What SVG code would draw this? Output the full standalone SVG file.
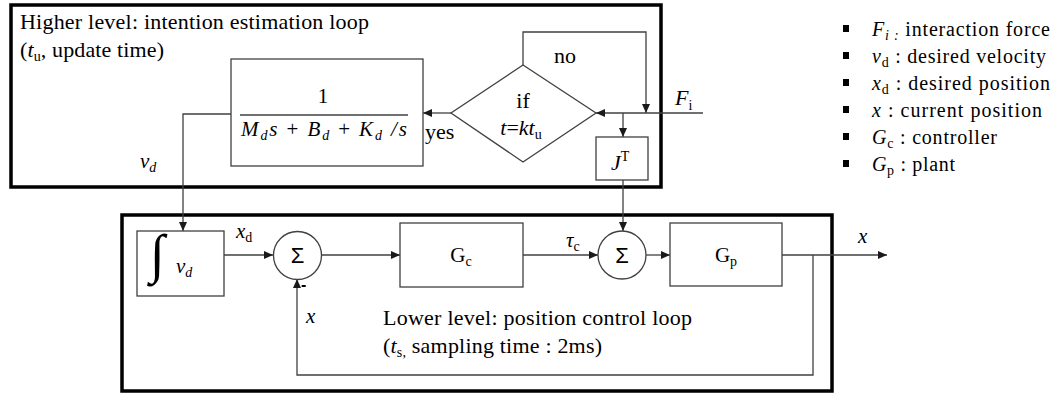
<svg xmlns="http://www.w3.org/2000/svg" width="1055" height="396" viewBox="0 0 1055 396">
<defs>
<marker id="ah" viewBox="0 0 9 8" refX="9" refY="4" markerWidth="9" markerHeight="8" markerUnits="userSpaceOnUse" orient="auto">
<path d="M0,0 L9,4 L0,8 z" fill="#1a1a1a"/>
</marker>
</defs>
<style>
.frame{fill:none;stroke:#000;stroke-width:3.5}
.blk{fill:#fff;stroke:#404040;stroke-width:1.3}
.con{fill:none;stroke:#404040;stroke-width:1.3;marker-end:url(#ah)}
</style>
<rect width="1055" height="396" fill="#fff"/>

<g id="upper-frame">
<rect class="frame" x="11" y="5" width="650" height="182"/>
<text font-family="'Liberation Serif', serif" font-size="22" x="20" y="29" textLength="349" lengthAdjust="spacing">Higher level: intention estimation loop</text>
<text font-family="'Liberation Serif', serif" font-size="22" x="20" y="57" textLength="144" lengthAdjust="spacing">(<tspan font-style="italic">t</tspan><tspan font-size="14" dy="4">u</tspan><tspan dy="-4">, update time)</tspan></text>
</g>

<g id="lower-frame">
<rect class="frame" x="122" y="215" width="710" height="176"/>
<text font-family="'Liberation Serif', serif" font-size="22" x="383" y="325" textLength="309" lengthAdjust="spacing">Lower level: position control loop</text>
<text font-family="'Liberation Serif', serif" font-size="22" x="383" y="353" textLength="219" lengthAdjust="spacing">(<tspan font-style="italic">t</tspan><tspan font-size="14" dy="4">s,</tspan><tspan dy="-4"> sampling time : 2ms)</tspan></text>
</g>

<g id="connectors">
<path class="con" d="M231,114 H183 V231"/>
<path class="con" d="M451,113 H423"/>
<path class="con" d="M523,65 V32 H646 V113"/>
<path class="con" d="M703,113 H596"/>
<path class="con" d="M623,113 V137"/>
<path class="con" d="M623,180 V231"/>
<path class="con" d="M224,255 H273"/>
<path class="con" d="M322,255 H400"/>
<path class="con" d="M523,255 H598"/>
<path class="con" d="M646,255 H670"/>
<path class="con" d="M782,255 H887"/>
<path class="con" d="M813,255 V375 H297 V279"/>
</g>

<g id="tf-block">
<rect class="blk" x="231" y="59" width="192" height="107"/>
<text font-family="'Liberation Serif', serif" font-size="21" x="323" y="103" text-anchor="middle">1</text>
<line x1="240" y1="115" x2="408" y2="115" stroke="#404040" stroke-width="1.3"/>
<text font-family="'Liberation Serif', serif" font-size="21" x="241" y="136" textLength="166" lengthAdjust="spacing"><tspan font-style="italic">M</tspan><tspan font-style="italic" font-size="14" dy="4">d</tspan><tspan font-style="italic" dy="-4">s</tspan> + <tspan font-style="italic">B</tspan><tspan font-style="italic" font-size="14" dy="4">d</tspan><tspan dy="-4"> + </tspan><tspan font-style="italic">K</tspan><tspan font-style="italic" font-size="14" dy="4">d</tspan><tspan font-style="italic" dy="-4"> /s</tspan></text>
</g>

<g id="decision">
<polygon class="blk" points="523,65 596,113 523,162 451,113"/>
<text font-family="'Liberation Serif', serif" font-size="22" x="523" y="108" text-anchor="middle">if</text>
<text font-family="'Liberation Serif', serif" font-size="22" x="521" y="135" text-anchor="middle"><tspan font-style="italic">t</tspan>=<tspan font-style="italic">kt</tspan><tspan font-size="14" dy="4">u</tspan></text>
</g>

<g id="jt-block">
<rect class="blk" x="596" y="137" width="52" height="43"/>
<text font-family="'Liberation Serif', serif" font-size="22" x="611" y="170"><tspan font-style="italic">J</tspan><tspan font-size="14" dy="-9">T</tspan></text>
</g>

<g id="integrator">
<rect class="blk" x="137" y="231" width="87" height="65"/>
<text font-family="'Liberation Serif', serif" x="150" y="272" font-size="54">∫</text>
<text font-family="'Liberation Serif', serif" font-size="21" x="176" y="273"><tspan font-style="italic">v</tspan><tspan font-style="italic" font-size="14" dy="4">d</tspan></text>
</g>

<g id="sum1">
<circle class="blk" cx="297.5" cy="255.5" r="24"/>
<text x="297.5" y="263" text-anchor="middle" font-family="'Liberation Sans', sans-serif" font-size="22">Σ</text>
</g>

<g id="gc-block">
<rect class="blk" x="400" y="223" width="123" height="64"/>
<text font-family="'Liberation Serif', serif" font-size="21" x="461" y="262" text-anchor="middle">G<tspan font-size="14" dy="4">c</tspan></text>
</g>

<g id="sum2">
<circle class="blk" cx="622" cy="255" r="24"/>
<text x="622" y="263" text-anchor="middle" font-family="'Liberation Sans', sans-serif" font-size="22">Σ</text>
</g>

<g id="gp-block">
<rect class="blk" x="670" y="223" width="112" height="63"/>
<text font-family="'Liberation Serif', serif" font-size="21" x="726" y="262" text-anchor="middle">G<tspan font-size="14" dy="4">p</tspan></text>
</g>

<g id="labels">
<text font-family="'Liberation Serif', serif" font-size="22" x="554" y="63">no</text>
<text font-family="'Liberation Serif', serif" font-size="22" x="425" y="139">yes</text>
<text font-family="'Liberation Serif', serif" font-size="22" x="675" y="105"><tspan font-style="italic">F</tspan><tspan font-size="14" dy="5">i</tspan></text>
<text font-family="'Liberation Serif', serif" font-size="21" x="140" y="168"><tspan font-style="italic">v</tspan><tspan font-style="italic" font-size="14" dy="4">d</tspan></text>
<text font-family="'Liberation Serif', serif" font-size="21" x="236" y="238"><tspan font-style="italic">x</tspan><tspan font-size="14" dy="4">d</tspan></text>
<text font-family="'Liberation Serif', serif" font-size="21" x="566" y="247"><tspan font-style="italic">τ</tspan><tspan font-size="14" dy="4">c</tspan></text>
<text font-family="'Liberation Serif', serif" font-size="21" font-style="italic" x="858" y="243">x</text>
<text font-family="'Liberation Serif', serif" font-size="21" font-style="italic" x="306" y="323">x</text>
<text x="301" y="290" font-family="'Liberation Sans', sans-serif" font-size="16" font-weight="bold">-</text>
</g>

<g id="legend">
<rect x="843" y="25" width="6" height="7" fill="#000"/>
<rect x="843" y="52" width="6" height="7" fill="#000"/>
<rect x="843" y="79" width="6" height="7" fill="#000"/>
<rect x="843" y="106" width="6" height="7" fill="#000"/>
<rect x="843" y="133" width="6" height="7" fill="#000"/>
<rect x="843" y="160" width="6" height="7" fill="#000"/>
<text font-family="'Liberation Serif', serif" font-size="20" x="872" y="36" textLength="178" lengthAdjust="spacing"><tspan font-style="italic">F</tspan><tspan font-style="italic" font-size="14" dy="4">i :</tspan><tspan dy="-4"> interaction force</tspan></text>
<text font-family="'Liberation Serif', serif" font-size="20" x="872" y="63" textLength="174" lengthAdjust="spacing"><tspan font-style="italic">v</tspan><tspan font-size="14" dy="4">d</tspan><tspan dy="-4"> : desired velocity</tspan></text>
<text font-family="'Liberation Serif', serif" font-size="20" x="872" y="90" textLength="178" lengthAdjust="spacing"><tspan font-style="italic">x</tspan><tspan font-size="14" dy="4">d</tspan><tspan dy="-4"> : desired position</tspan></text>
<text font-family="'Liberation Serif', serif" font-size="20" x="872" y="117" textLength="170" lengthAdjust="spacing"><tspan font-style="italic">x</tspan> : current position</text>
<text font-family="'Liberation Serif', serif" font-size="20" x="872" y="144" textLength="125" lengthAdjust="spacing"><tspan font-style="italic">G</tspan><tspan font-size="14" dy="4">c</tspan><tspan dy="-4"> : controller</tspan></text>
<text font-family="'Liberation Serif', serif" font-size="20" x="872" y="171" textLength="83" lengthAdjust="spacing"><tspan font-style="italic">G</tspan><tspan font-size="14" dy="4">p</tspan><tspan dy="-4"> : plant</tspan></text>
</g>
</svg>
